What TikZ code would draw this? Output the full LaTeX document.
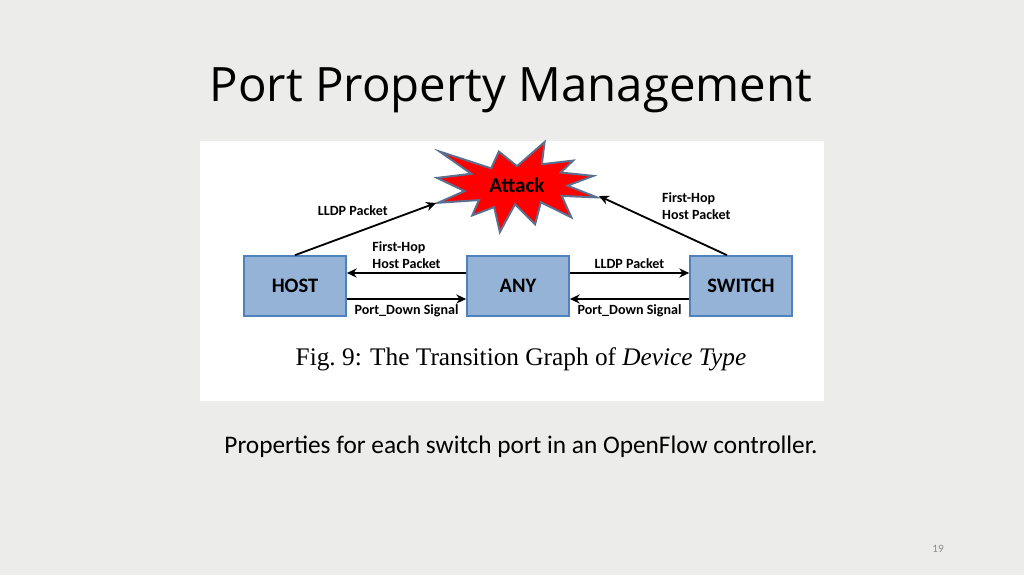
\documentclass[tikz,border=0pt]{standalone}
\usepackage{fontspec}
\setmainfont{Carlito}
\newfontfamily\titlefont{Open Sans}
\newfontfamily\figfont{Liberation Serif}
\usetikzlibrary{positioning, arrows.meta, calc}
\definecolor{slidebg}{HTML}{ECECEA}
\definecolor{boxfill}{HTML}{95B3D7}
\definecolor{boxline}{HTML}{4F81BD}
\definecolor{burstline}{HTML}{5B6F8E}
\definecolor{pagenum}{HTML}{8C8C8C}

\begin{document}
\begin{tikzpicture}[x=0.025cm, y=-0.025cm,
  state/.style={draw=boxline, line width=1.2pt, fill=boxfill, minimum width=2.55cm, minimum height=1.5cm, font=\fontsize{14.6}{17}\selectfont\bfseries, inner sep=0pt},
  burst/.style={draw=burstline, line width=1.4pt, fill=red, line join=miter},
  lbl/.style={font=\fontsize{10}{12}\selectfont\bfseries, align=left, inner sep=1.5pt},
  arr/.style={-{Stealth[length=7pt, width=6.5pt]}, line width=1.3pt, black}
]
  \useasboundingbox (0,0) rectangle (1024,575);
  \fill[slidebg] (0,0) rectangle (1024,575);
  \fill[white] (200,141) rectangle (824,401);

  \node[font=\titlefont\fontsize{33.7}{40}\selectfont] (title) at (511,90) {Port Property Management};

  % explosion outline
  \begin{scope}[shift={(437,142)}, xscale=160/216, yscale=90/216]
    \draw[burst] (108,58) -- (145.22,0) -- (141.55,53.25) -- (183.80,44.57) -- (167.02,73.15)
      -- (210.97,81.37) -- (176.07,104.75) -- (216,132.90) -- (168.37,129.42) -- (181.45,180.95)
      -- (140.20,144.57) -- (132.47,197.37) -- (105.32,149.35) -- (84.85,216) -- (77.15,156.27)
      -- (47.62,176.17) -- (56.67,139.37) -- (1.35,145.87) -- (37.22,117.75) -- (0,86.15)
      -- (46.27,76.17) -- (3.70,22.95) -- (73.12,63.20) -- (83.52,22.95) -- cycle;
  \end{scope}
  \node[font=\fontsize{15}{17}\selectfont\bfseries] (attack) at (517,185) {Attack};

  \node[state] (host) at (295,286) {HOST};
  \node[state] (any) at (518,286) {ANY};
  \node[state] (switch) at (741,286) {SWITCH};

  \coordinate (hitL) at (436,203);
  \coordinate (hitR) at (599,196);

  \draw[arr] (host.north) -- node[lbl, pos=0.41, above=11pt] {LLDP Packet} (hitL);
  \draw[arr] ([xshift=-10pt]switch.north) -- node[lbl, pos=0.53, anchor=south west, yshift=1pt] {First-Hop\\Host Packet} (hitR);

  \draw[arr] ($(any.west)+(0,-13)$) -- node[lbl, above=1pt] {First-Hop\\Host Packet} ($(host.east)+(0,-13)$);
  \draw[arr] ($(host.east)+(0,13)$) -- node[lbl, below=2pt] {Port\_Down Signal} ($(any.west)+(0,13)$);
  \draw[arr] ($(any.east)+(0,-13)$) -- node[lbl, above=1pt] {LLDP Packet} ($(switch.west)+(0,-13)$);
  \draw[arr] ($(switch.west)+(0,13)$) -- node[lbl, below=2pt] {Port\_Down Signal} ($(any.east)+(0,13)$);

  \node[font=\figfont\fontsize{18}{21}\selectfont] (caption) at (521,359) {Fig.\ 9: The Transition Graph of \textit{Device Type}};

  \node[font=\fontsize{18}{21}\selectfont] (note) at (521,447) {Properties for each switch port in an OpenFlow controller.};

  \node[font=\fontsize{8}{10}\selectfont, text=pagenum] (page) at (938,549) {19};
\end{tikzpicture}
\end{document}
